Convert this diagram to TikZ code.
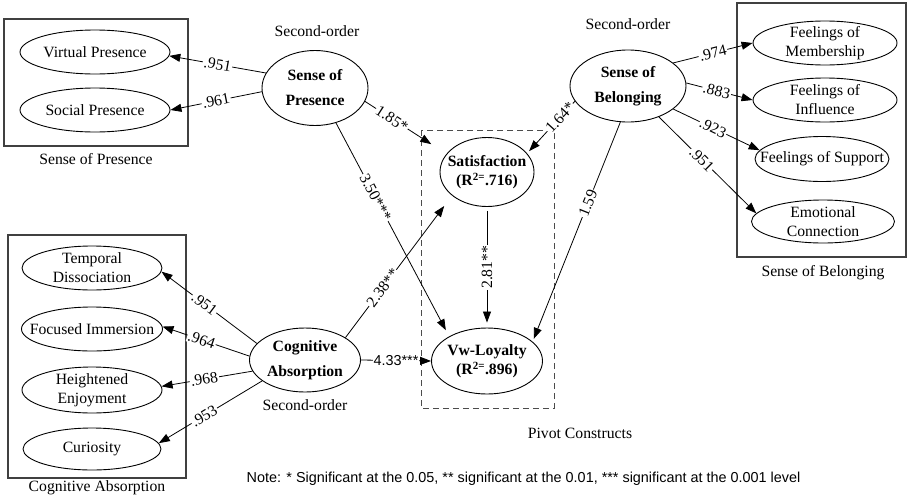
\documentclass[tikz,border=0pt]{standalone}
\usepackage{fontspec}
\setmainfont{Liberation Serif}
\newfontfamily\notefont{Liberation Sans}
\usetikzlibrary{shapes.geometric,arrows.meta}

\begin{document}
\begin{tikzpicture}[x=1pt,y=-1pt,
  every node/.style={font=\fontsize{15.7}{19}\selectfont},
  lv/.style={ellipse, draw, line width=0.9pt, inner sep=0pt},
  txt/.style={align=center, inner sep=0pt},
  bold/.style={align=center, inner sep=0pt, font=\fontsize{15.7}{25}\selectfont\bfseries},
  boldtight/.style={align=center, inner sep=0pt, font=\fontsize{15.7}{19}\selectfont\bfseries},
  grp/.style={draw=black!75, line width=1.1pt},
  pivot/.style={draw=black!70, line width=1pt, dash pattern=on 6pt off 4pt},
  arr/.style={-{Triangle[length=11pt,width=8pt]}, line width=0.8pt},
  lab/.style={sloped, fill=white, inner sep=1pt},
]
\useasboundingbox (0,0) rectangle (910,501);

% group frames
\draw[grp] (4,19) rectangle (188,146);
\draw[grp] (8,235) rectangle (186,478);
\draw[grp] (737,3) rectangle (906,257);
\draw[pivot] (421,130) rectangle (554,408);

% first-order constructs: sense of presence
\node[lv, minimum width=150pt, minimum height=44pt] (vp) at (95,52) {};
\node[txt] (vp-t) at (vp) {Virtual Presence};
\node[lv, minimum width=150pt, minimum height=44pt] (sp) at (95,110) {};
\node[txt] (sp-t) at (sp) {Social Presence};

% first-order constructs: cognitive absorption
\node[lv, minimum width=140pt, minimum height=44pt] (td) at (92,268) {};
\node[txt] (td-t) at (td) {Temporal\\Dissociation};
\node[lv, minimum width=141pt, minimum height=44pt] (fim) at (92,329) {};
\node[txt] (fim-t) at (fim) {Focused Immersion};
\node[lv, minimum width=140pt, minimum height=46pt] (he) at (92,390) {};
\node[txt] (he-t) at (he) {Heightened\\Enjoyment};
\node[lv, minimum width=138pt, minimum height=42pt] (cur) at (92,449) {};
\node[txt] (cur-t) at (cur) {Curiosity};

% first-order constructs: sense of belonging
\node[lv, minimum width=144pt, minimum height=44pt] (fm) at (825,43) {};
\node[txt] (fm-t) at (fm) {Feelings of\\Membership};
\node[lv, minimum width=144pt, minimum height=44pt] (fi) at (825,100) {};
\node[txt] (fi-t) at (fi) {Feelings of\\Influence};
\node[lv, minimum width=134pt, minimum height=45pt] (fs) at (822,159) {};
\node[txt] (fs-t) at (fs) {Feelings of Support};
\node[lv, minimum width=143pt, minimum height=43pt] (ec) at (823,221.5) {};
\node[txt] (ec-t) at (ec) {Emotional\\Connection};

% second-order constructs
\node[lv, minimum width=106pt, minimum height=75pt] (sop) at (315,88) {};
\node[bold] (sop-t) at (sop) {Sense of\\Presence};
\node[lv, minimum width=116pt, minimum height=72pt] (sob) at (628,86) {};
\node[bold] (sob-t) at (sob) {Sense of\\Belonging};
\node[lv, minimum width=111pt, minimum height=64pt] (ca) at (305,360) {};
\node[bold] (ca-t) at (ca) {Cognitive\\Absorption};

% pivot constructs
\node[lv, minimum width=94pt, minimum height=69pt] (sat) at (487,172) {};
\node[boldtight] (sat-t) at (sat) {Satisfaction\\(R\textsuperscript{2=}.716)};
\node[lv, minimum width=111pt, minimum height=66pt] (loy) at (487,361) {};
\node[boldtight] (loy-t) at (loy) {Vw-Loyalty\\(R\textsuperscript{2=}.896)};

% captions
\node[txt] (so1) at (317,31) {Second-order};
\node[txt] (so2) at (628,24) {Second-order};
\node[txt] (so3) at (305,405) {Second-order};
\node[txt] (cap-sop) at (96,159) {Sense of Presence};
\node[txt] (cap-ca) at (97,488) {Cognitive Absorption};
\node[txt] (cap-sob) at (823,273) {Sense of Belonging};
\node[txt] (cap-piv) at (580,433) {Pivot Constructs};
\node[txt, font=\notefont\fontsize{14.4}{17}\selectfont] (note) at (523.5,479)
  {Note: * Significant at the 0.05, ** significant at the 0.01, *** significant at the 0.001 level};

% loadings of sense of presence
\draw[arr] (sop.163) -- node[lab, pos=.5] {.951} (vp.-3);
\draw[arr] (sop.184) -- node[lab, pos=.5] {.961} (sp.0);

% loadings of cognitive absorption
\draw[arr] (ca.161) -- node[lab, pos=.55] {.951} (td.-3);
\draw[arr] (ca.176) -- node[lab, pos=.55] {.964} (fim.2);
\draw[arr] (ca.192) -- node[lab, pos=.53] {.968} (he.3);
\draw[arr] (ca.206) -- node[lab, pos=.56] {.953} (cur.5);

% loadings of sense of belonging
\draw[arr] (sob.27) -- node[lab, pos=.5] {.974} (fm.180);
\draw[arr] (sob.3) -- node[lab, pos=.46] {.883} (fi.180);
\draw[arr] (sob.-27.6) -- node[lab, pos=.46] {.923} (fs.172);
\draw[arr] (sob.-45) -- node[lab, pos=.44] {.951} (ec.173);

% structural paths
\draw[arr, shorten >=18pt] (sop.-15.6) -- node[lab, pos=.33] {1.85*} (sat.156);
\draw[arr, shorten >=7pt] (sop.-59) -- node[lab, pos=.35] {3.50***} (loy.147.5);
\draw[arr, shorten >=3pt] (sob.196) -- node[lab, pos=.31] {1.64*} (sat.25);
\draw[arr, shorten >=3pt] (sob.-102) -- node[lab, pos=.37] {1.59} (loy.23.6);
\draw[arr, shorten <=4pt, shorten >=5pt] (sat.south) -- node[fill=white, inner sep=1pt, rotate=90, pos=.5] {2.81**} (loy.north);
\draw[arr, shorten >=13pt] (ca.29) -- node[lab, pos=.35] {2.38**} (sat.214.6);
\draw[arr] (ca.east) -- node[fill=white, inner sep=1pt, pos=.5, font=\notefont\fontsize{14.4}{17}\selectfont] {4.33***} (loy.west);

\end{tikzpicture}
\end{document}
